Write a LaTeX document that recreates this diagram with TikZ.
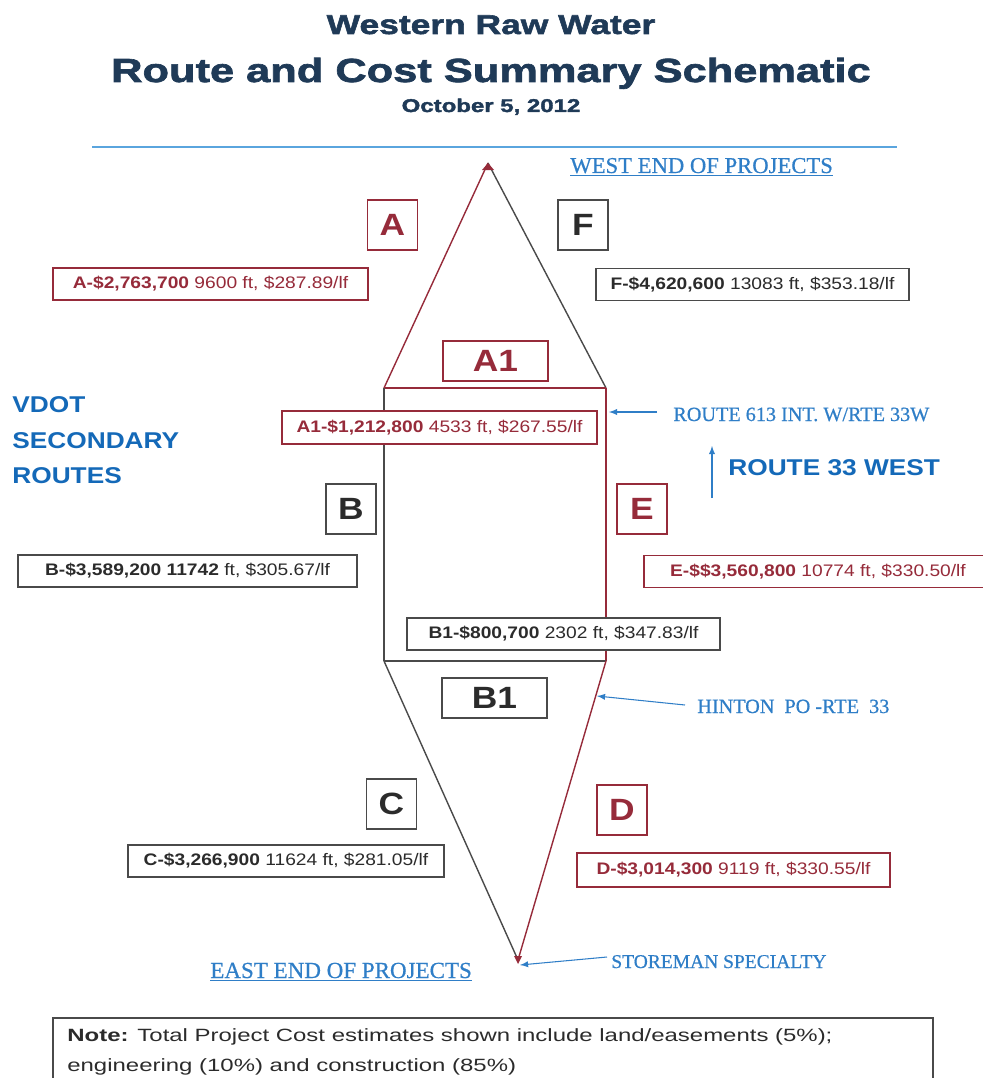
\documentclass[tikz,border=0pt]{standalone}
\usepackage{fontspec}
\setmainfont{Liberation Sans}[FakeStretch=1.15]
\newfontfamily\titlefont{Liberation Sans}[FakeStretch=1.3, BoldFeatures={FakeBold=2}]
\newfontfamily\notefont{Liberation Sans}[FakeStretch=1.35]
\newfontfamily\routefont{Liberation Serif}[FakeBold=0.6]
\usetikzlibrary{arrows}

\definecolor{routered}{HTML}{962B3A}
\definecolor{signblue}{HTML}{2F7EC7}
\definecolor{routeblue}{HTML}{1469B8}
\definecolor{titlenavy}{HTML}{1F3A57}
\definecolor{lineblue}{HTML}{5AA5DE}
\definecolor{textgray}{HTML}{2B2B2B}
\definecolor{boxgray}{HTML}{4A4A4A}

\tikzset{
  redbox/.style={draw=routered, text=routered},
  graybox/.style={draw=boxgray, text=textgray},
  letterbox/.style={fill=white, line width=0.7pt, inner sep=0pt, minimum width=1cm, minimum height=1cm, font=\fontsize{17.5}{20}\selectfont\bfseries},
  wordbox/.style={letterbox, minimum width=2.1cm, minimum height=0.8cm},
  costbox/.style={fill=white, line width=0.7pt, inner sep=0pt, minimum height=0.64cm, font=\fontsize{9.5}{11}\selectfont},
  titletext/.style={anchor=base, inner sep=0pt, text=titlenavy},
  signtext/.style={anchor=base west, inner sep=0pt, text=signblue, font=\routefont\fontsize{11.5}{13}\selectfont},
  boldblue/.style={anchor=base west, inner sep=0pt, text=routeblue, font=\fontsize{13}{15}\selectfont\bfseries},
  notetext/.style={anchor=base west, inner sep=0pt, text=textgray, font=\notefont\fontsize{10.1}{12}\selectfont},
  bluearrow/.style={draw=signblue, line width=0.6pt, -latex},
  redroute/.style={draw=routered, line width=0.8pt},
  grayroute/.style={draw=boxgray, line width=0.8pt}
}

\begin{document}
\begin{tikzpicture}[x=0.02cm, y=-0.02cm]
\useasboundingbox (0,0) rectangle (983,1078);

%title
\node[titletext, font=\titlefont\fontsize{15.5}{17}\selectfont\bfseries] (title) at (491,34) {Western Raw Water};
\node[titletext, font=\titlefont\fontsize{19}{21}\selectfont\bfseries] (subtitle) at (491,82) {Route and Cost Summary Schematic};
\node[titletext, font=\titlefont\fontsize{10.5}{12}\selectfont\bfseries] (date) at (491,112) {October 5, 2012};
\draw[lineblue, line width=1.1pt] (92,147) -- (897,147);

%route corners
\coordinate (west) at (488,163);
\coordinate (nw) at (384,388);
\coordinate (ne) at (606,388);
\coordinate (sw) at (384,661);
\coordinate (se) at (606,661);
\coordinate (east) at (518,960);

%draw routes
\draw[redroute] (west) -- (nw);
\draw[grayroute] (west) -- (ne);
\draw[redroute] (nw) -- (ne);
\draw[grayroute] (nw) -- (sw);
\draw[redroute] (ne) -- (se);
\draw[grayroute] (sw) -- (se);
\draw[grayroute] (sw) -- (east);
\draw[redroute] (se) -- (east);
\fill[routered] (west) -- ++(-6,7) -- ++(12,0) -- cycle;
\fill[routered] (east) ++(0,4) -- ++(-4,-8) -- ++(8,0) -- cycle;

%segment letters
\node[letterbox, redbox] (a) at (392.5,225) {A};
\node[letterbox, graybox] (f) at (583,225) {F};
\node[wordbox, redbox] (a1) at (495.5,361) {A1};
\node[letterbox, graybox] (b) at (351,509) {B};
\node[letterbox, redbox] (e) at (642,509) {E};
\node[wordbox, graybox] (b1) at (494.5,698) {B1};
\node[letterbox, graybox] (c) at (391.5,804) {C};
\node[letterbox, redbox] (d) at (622,810) {D};

%costs
\node[costbox, redbox, minimum width=6.3cm] (acost) at (210.5,284) {\textbf{A-\$2,763,700} 9600 ft, \$287.89/lf};
\node[costbox, graybox, minimum width=6.26cm] (fcost) at (752.5,284.5) {\textbf{F-\$4,620,600} 13083 ft, \$353.18/lf};
\node[costbox, redbox, minimum width=6.3cm, minimum height=0.66cm] (a1cost) at (439.5,427.5) {\textbf{A1-\$1,212,800} 4533 ft, \$267.55/lf};
\node[costbox, graybox, minimum width=6.78cm] (bcost) at (187.5,571) {\textbf{B-\$3,589,200 11742} ft, \$305.67/lf};
\node[costbox, redbox, minimum width=6.96cm] (ecost) at (818,571.5) {\textbf{E-\$\$3,560,800} 10774 ft, \$330.50/lf};
\node[costbox, graybox, minimum width=6.26cm] (b1cost) at (563.5,634) {\textbf{B1-\$800,700} 2302 ft, \$347.83/lf};
\node[costbox, graybox, minimum width=6.32cm] (ccost) at (286,861) {\textbf{C-\$3,266,900} 11624 ft, \$281.05/lf};
\node[costbox, redbox, minimum width=6.26cm, minimum height=0.68cm] (dcost) at (733.5,870) {\textbf{D-\$3,014,300} 9119 ft, \$330.55/lf};

%blue labels
\node[signtext, font=\routefont\fontsize{12.9}{14}\selectfont] (westend) at (570,173) {\underline{WEST END OF PROJECTS}};
\node[signtext, font=\routefont\fontsize{13.1}{14}\selectfont] (eastend) at (210,978) {\underline{EAST END OF PROJECTS}};
\node[signtext] (r613) at (673,421) {ROUTE 613 INT. W/RTE 33W};
\node[signtext] (hinton) at (697,713) {HINTON\ \ PO\ -RTE\ \ 33};
\node[signtext, font=\routefont\fontsize{11.1}{13}\selectfont] (storeman) at (611,968) {STOREMAN SPECIALTY};
\node[boldblue] (vdot) at (12,412) {VDOT};
\node[boldblue] (secondary) at (12,448) {SECONDARY};
\node[boldblue] (routes) at (12,483) {ROUTES};
\node[boldblue] (r33) at (728,475) {ROUTE 33 WEST};

%pointers
\coordinate (r613tail) at (657,412);
\coordinate (r613tip) at (609,412);
\coordinate (r33tail) at (712,498);
\coordinate (r33tip) at (712,446);
\coordinate (hintontail) at (685,705);
\coordinate (hintontip) at (597,696);
\coordinate (storetail) at (607,957);
\coordinate (storetip) at (520,965);
\draw[bluearrow] (r613tail) -- (r613tip);
\draw[bluearrow] (r33tail) -- (r33tip);
\draw[bluearrow] (hintontail) -- (hintontip);
\draw[bluearrow] (storetail) -- (storetip);

%note
\draw[boxgray, line width=0.8pt] (53,1095) -- (53,1018) -- (933,1018) -- (933,1095);
\node[notetext] (note1) at (67,1041) {\textbf{Note:} Total Project Cost estimates shown include land/easements (5\%);};
\node[notetext] (note2) at (67,1071) {engineering (10\%) and construction (85\%)};

\end{tikzpicture}
\end{document}
